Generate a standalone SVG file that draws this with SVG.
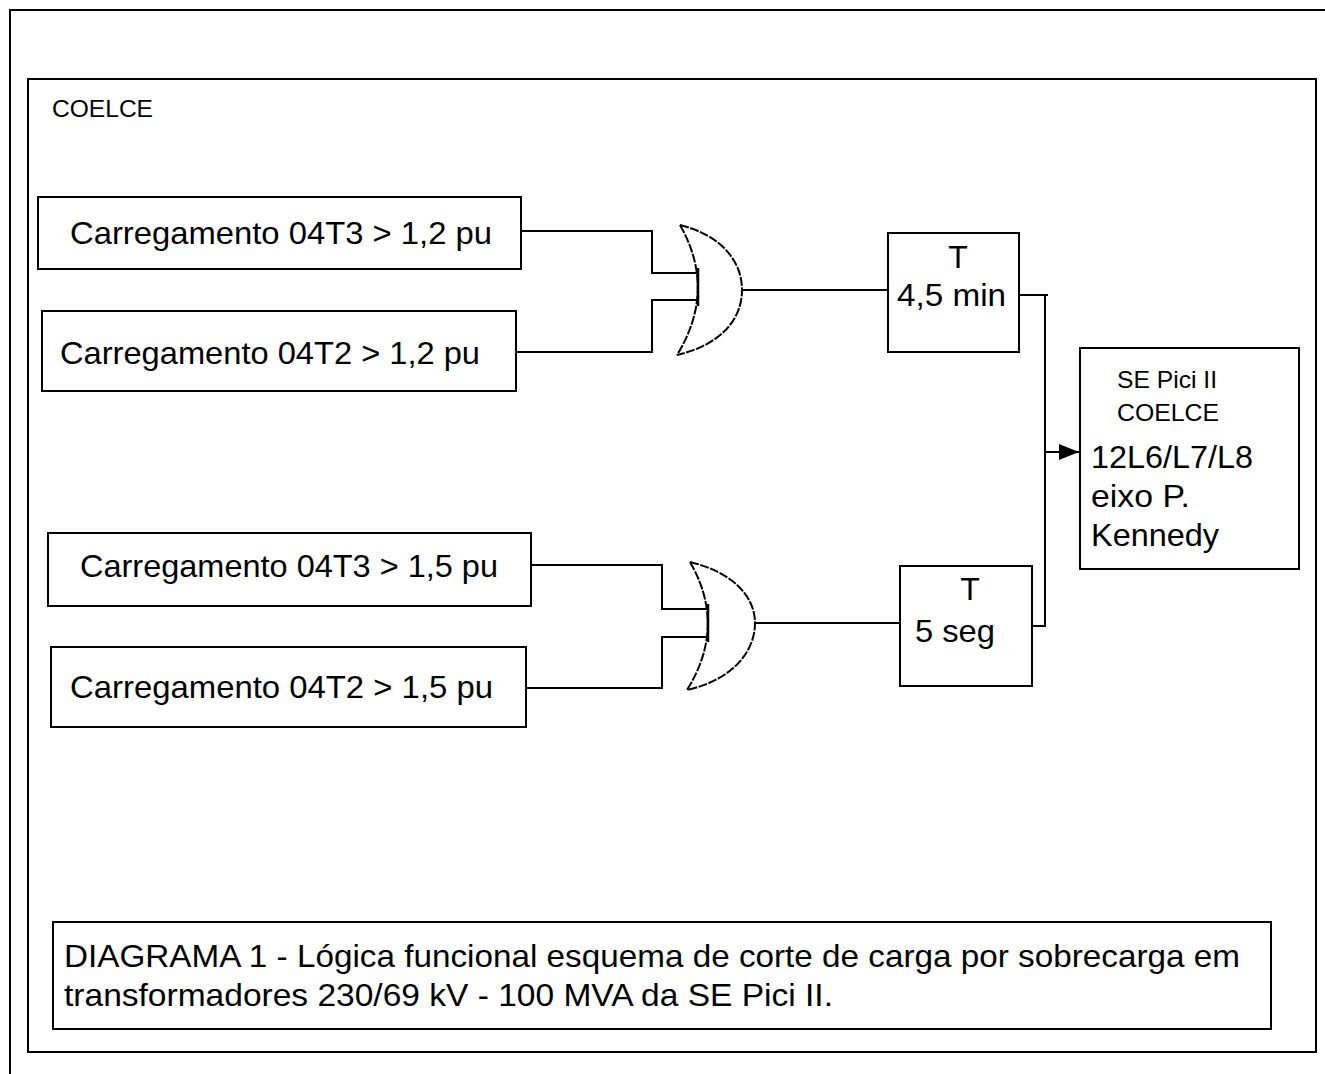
<svg xmlns="http://www.w3.org/2000/svg" width="1325" height="1074" viewBox="0 0 1325 1074">
  <style>
    .box { fill: #fff; stroke: #000; stroke-width: 2; }
    .frame { fill: none; stroke: #000; stroke-width: 2; }
    .wire { fill: none; stroke: #000; stroke-width: 2; }
    .gate { fill: none; stroke: #000; stroke-width: 2; stroke-dasharray: 9 1.5; }
    .bar { fill: none; stroke: #000; stroke-width: 2.5; }
    .big { font-family: "Liberation Sans", Arial, sans-serif; font-size: 32px; fill: #000; }
    .small { font-family: "Liberation Sans", Arial, sans-serif; font-size: 24px; fill: #000; }
  </style>
  <defs>
    <marker id="arrow" markerUnits="userSpaceOnUse" markerWidth="22" markerHeight="20" refX="20" refY="10" orient="auto">
      <path d="M0,2 L20,10 L0,18 Z" fill="#000"/>
    </marker>
  </defs>
  <rect x="0" y="0" width="1325" height="1074" fill="#fff"/>

  <g id="outer-frame">
    <path class="frame" d="M10,1074 L10,10 L1325,10"/>
  </g>
  <g id="inner-frame">
    <rect class="frame" x="28" y="79" width="1288" height="973"/>
    <text class="small" x="52" y="117" textLength="101" lengthAdjust="spacingAndGlyphs">COELCE</text>
  </g>

  <g id="connectors">
    <path class="wire" d="M521,231 L652,231 L652,273 L698,273"/>
    <path class="wire" d="M516,352 L652,352 L652,300 L698,300"/>
    <path class="bar" d="M698,268 L698,306"/>
    <path class="wire" d="M742,290 L888,290"/>
    <path class="wire" d="M531,565 L662,565 L662,609 L708,609"/>
    <path class="wire" d="M526,688 L662,688 L662,637 L708,637"/>
    <path class="bar" d="M708,604 L708,642"/>
    <path class="wire" d="M755,623 L900,623"/>
    <path class="wire" d="M1019,295 L1048,295"/>
    <path class="wire" d="M1045,295 L1045,626 L1032,626"/>
    <path class="wire" d="M1045,452 L1079,452" marker-end="url(#arrow)"/>
  </g>

  <g id="input-04T3-12">
    <rect class="box" x="38" y="197" width="483" height="72"/>
    <text class="big" x="70" y="244" textLength="422" lengthAdjust="spacingAndGlyphs">Carregamento  04T3 &gt; 1,2 pu</text>
  </g>
  <g id="input-04T2-12">
    <rect class="box" x="42" y="311" width="474" height="80"/>
    <text class="big" x="60" y="364" textLength="420" lengthAdjust="spacingAndGlyphs">Carregamento 04T2 &gt; 1,2 pu</text>
  </g>
  <g id="input-04T3-15">
    <rect class="box" x="48" y="533" width="483" height="73"/>
    <text class="big" x="80" y="577" textLength="418" lengthAdjust="spacingAndGlyphs">Carregamento 04T3 &gt; 1,5 pu</text>
  </g>
  <g id="input-04T2-15">
    <rect class="box" x="51" y="647" width="475" height="80"/>
    <text class="big" x="70" y="698" textLength="423" lengthAdjust="spacingAndGlyphs">Carregamento 04T2 &gt; 1,5 pu</text>
  </g>

  <g id="or-gate-1">
    <path class="gate" d="M680,225 Q717,290 677,355"/>
    <path class="gate" d="M680,225 C720,235 742,260 742,290 C742,320 720,345 677,355"/>
  </g>
  <g id="or-gate-2">
    <path class="gate" d="M690,562 Q727,626 687,690"/>
    <path class="gate" d="M690,562 C732,572 755,596 755,623 C755,652 732,680 687,690"/>
  </g>

  <g id="timer-45min">
    <rect class="box" x="888" y="233" width="131" height="119"/>
    <text class="big" x="958" y="268" text-anchor="middle">T</text>
    <text class="big" x="897" y="306" textLength="109" lengthAdjust="spacingAndGlyphs">4,5 min</text>
  </g>
  <g id="timer-5seg">
    <rect class="box" x="900" y="566" width="132" height="120"/>
    <text class="big" x="970" y="600" text-anchor="middle">T</text>
    <text class="big" x="915" y="642" textLength="80" lengthAdjust="spacingAndGlyphs">5 seg</text>
  </g>

  <g id="output-se-pici">
    <rect class="box" x="1080" y="348" width="219" height="221"/>
    <text class="small" x="1117" y="388" textLength="100" lengthAdjust="spacingAndGlyphs">SE Pici II</text>
    <text class="small" x="1117" y="421" textLength="102" lengthAdjust="spacingAndGlyphs">COELCE</text>
    <text class="big" x="1091" y="468" textLength="162" lengthAdjust="spacingAndGlyphs">12L6/L7/L8</text>
    <text class="big" x="1091" y="507" textLength="99" lengthAdjust="spacingAndGlyphs">eixo P.</text>
    <text class="big" x="1091" y="546" textLength="128" lengthAdjust="spacingAndGlyphs">Kennedy</text>
  </g>

  <g id="caption">
    <rect class="box" x="53" y="922" width="1218" height="107"/>
    <text class="big" x="64" y="967" textLength="1176" lengthAdjust="spacingAndGlyphs">DIAGRAMA 1 - Lógica funcional esquema de corte de carga por sobrecarga em</text>
    <text class="big" x="64" y="1006" textLength="769" lengthAdjust="spacingAndGlyphs">transformadores 230/69 kV - 100 MVA da SE Pici II.</text>
  </g>
</svg>
